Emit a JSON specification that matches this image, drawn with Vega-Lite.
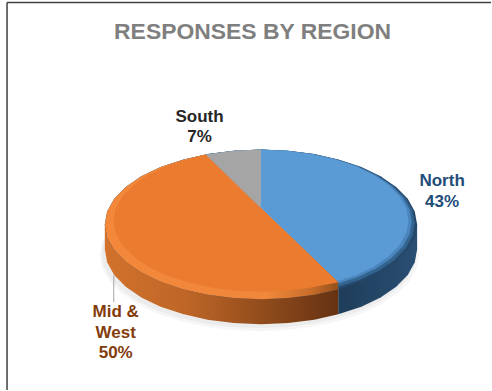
{
  "$schema": "https://vega.github.io/schema/vega-lite/v6.json",
  "autosize": {"type": "fit", "contains": "padding"},
  "width": 492,
  "height": 391,
  "padding": 0,
  "background": "white",
  "view": {"stroke": null},
  "datasets": {
    "disc": [
      {"i":0,"x":0,"y":1},{"i":1,"x":0.174,"y":0.985},{"i":2,"x":0.342,"y":0.94},{"i":3,"x":0.5,"y":0.866},{"i":4,"x":0.643,"y":0.766},{"i":5,"x":0.766,"y":0.643},
      {"i":6,"x":0.866,"y":0.5},{"i":7,"x":0.94,"y":0.342},{"i":8,"x":0.985,"y":0.174},{"i":9,"x":1,"y":0},{"i":10,"x":0.985,"y":-0.174},{"i":11,"x":0.94,"y":-0.342},
      {"i":12,"x":0.866,"y":-0.5},{"i":13,"x":0.766,"y":-0.643},{"i":14,"x":0.643,"y":-0.766},{"i":15,"x":0.5,"y":-0.866},{"i":16,"x":0.342,"y":-0.94},{"i":17,"x":0.174,"y":-0.985},
      {"i":18,"x":0,"y":-1},{"i":19,"x":-0.174,"y":-0.985},{"i":20,"x":-0.342,"y":-0.94},{"i":21,"x":-0.5,"y":-0.866},{"i":22,"x":-0.643,"y":-0.766},{"i":23,"x":-0.766,"y":-0.643},
      {"i":24,"x":-0.866,"y":-0.5},{"i":25,"x":-0.94,"y":-0.342},{"i":26,"x":-0.985,"y":-0.174},{"i":27,"x":-1,"y":0},{"i":28,"x":-0.985,"y":0.174},{"i":29,"x":-0.94,"y":0.342},
      {"i":30,"x":-0.866,"y":0.5},{"i":31,"x":-0.766,"y":0.643},{"i":32,"x":-0.643,"y":0.766},{"i":33,"x":-0.5,"y":0.866},{"i":34,"x":-0.342,"y":0.94},{"i":35,"x":-0.174,"y":0.985}
    ],
    "northWall": [
      {"i":0,"x":0.495,"y":0},{"i":1,"x":1,"y":0},{"i":2,"x":1,"y":-0.333},{"i":3,"x":0.985,"y":-0.507},{"i":4,"x":0.94,"y":-0.675},{"i":5,"x":0.866,"y":-0.833},
      {"i":6,"x":0.766,"y":-0.976},{"i":7,"x":0.643,"y":-1.099},{"i":8,"x":0.5,"y":-1.199},{"i":9,"x":0.495,"y":-1.202}
    ],
    "midWestWall": [
      {"i":0,"x":0.495,"y":-0.5},{"i":1,"x":0.495,"y":-1.202},{"i":2,"x":0.342,"y":-1.273},{"i":3,"x":0.174,"y":-1.318},{"i":4,"x":0,"y":-1.333},{"i":5,"x":-0.174,"y":-1.318},
      {"i":6,"x":-0.342,"y":-1.273},{"i":7,"x":-0.5,"y":-1.199},{"i":8,"x":-0.643,"y":-1.099},{"i":9,"x":-0.766,"y":-0.976},{"i":10,"x":-0.866,"y":-0.833},{"i":11,"x":-0.94,"y":-0.675},
      {"i":12,"x":-0.985,"y":-0.507},{"i":13,"x":-1,"y":-0.333},{"i":14,"x":-1,"y":0}
    ],
    "midWestRim": [
      {"i":0,"x":0,"y":0.22},{"i":1,"x":0.495,"y":-0.773},{"i":2,"x":0.495,"y":-0.869},{"i":3,"x":0.342,"y":-0.94},{"i":4,"x":0.174,"y":-0.985},{"i":5,"x":0,"y":-1},
      {"i":6,"x":-0.174,"y":-0.985},{"i":7,"x":-0.342,"y":-0.94},{"i":8,"x":-0.5,"y":-0.866},{"i":9,"x":-0.643,"y":-0.766},{"i":10,"x":-0.766,"y":-0.643},{"i":11,"x":-0.866,"y":-0.5},
      {"i":12,"x":-0.94,"y":-0.342},{"i":13,"x":-0.985,"y":-0.174},{"i":14,"x":-1,"y":0},{"i":15,"x":-0.985,"y":0.174},{"i":16,"x":-0.94,"y":0.342},{"i":17,"x":-0.866,"y":0.5},
      {"i":18,"x":-0.766,"y":0.643},{"i":19,"x":-0.643,"y":0.766},{"i":20,"x":-0.5,"y":0.866},{"i":21,"x":-0.354,"y":0.935}
    ],
    "midWestFace": [
      {"i":0,"x":0,"y":0.22,"region":"Mid & West","share":50},{"i":1,"x":0.495,"y":-0.773},{"i":2,"x":0.323,"y":-0.843},{"i":3,"x":0.164,"y":-0.886},{"i":4,"x":0,"y":-0.9},{"i":5,"x":-0.164,"y":-0.886},
      {"i":6,"x":-0.323,"y":-0.843},{"i":7,"x":-0.4725,"y":-0.773},{"i":8,"x":-0.608,"y":-0.678},{"i":9,"x":-0.724,"y":-0.561},{"i":10,"x":-0.818,"y":-0.425},{"i":11,"x":-0.888,"y":-0.275},
      {"i":12,"x":-0.931,"y":-0.115},{"i":13,"x":-0.945,"y":0.05},{"i":14,"x":-0.931,"y":0.215},{"i":15,"x":-0.888,"y":0.375},{"i":16,"x":-0.818,"y":0.525},{"i":17,"x":-0.724,"y":0.661},
      {"i":18,"x":-0.608,"y":0.778},{"i":19,"x":-0.4725,"y":0.873},{"i":20,"x":-0.354,"y":0.935}
    ],
    "southFace": [
      {"i":0,"x":0,"y":0.22,"region":"South","share":7},{"i":1,"x":-0.354,"y":0.935},{"i":2,"x":-0.174,"y":0.985},{"i":3,"x":0,"y":1}
    ],
    "frame": [
      {"x":-1.626,"x2":1.473,"y":2.967,"y2":2.967},
      {"x":-1.626,"x2":-1.626,"y":2.967,"y2":-2.2133}
    ],
    "leader": [
      {"x":-0.9425,"y":-0.68,"y2":-1.04}
    ],
    "labels": [
      {"text":"RESPONSES BY REGION","x":-0.054,"y":2.48,"kind":"title"},
      {"text":"South","x":-0.393,"y":1.373,"kind":"South"},
      {"text":"7%","x":-0.393,"y":1.107,"kind":"South"},
      {"text":"North","x":1.16,"y":0.507,"kind":"North"},
      {"text":"43%","x":1.16,"y":0.227,"kind":"North"},
      {"text":"Mid &","x":-0.93,"y":-1.24,"kind":"Mid & West"},
      {"text":"West","x":-0.93,"y":-1.52,"kind":"Mid & West"},
      {"text":"50%","x":-0.93,"y":-1.787,"kind":"Mid & West"}
    ]
  },
  "resolve": {"scale": {"x": "independent", "y": "independent"}},
  "layer": [
    {
      "data": {"name": "disc"},
      "mark": {"type": "line", "fill": "#000000", "fillOpacity": 0.035, "strokeWidth": 0},
      "encoding": {
        "x": {"field": "x", "type": "quantitative", "axis": null, "scale": {"domain": [-1.625, 1.45]}},
        "y": {"field": "y", "type": "quantitative", "axis": null, "scale": {"domain": [-1.776, 3.368]}},
        "order": {"field": "i"}
      }
    },
    {
      "data": {"name": "disc"},
      "mark": {"type": "line", "fill": "#000000", "fillOpacity": 0.04, "strokeWidth": 0},
      "encoding": {
        "x": {"field": "x", "type": "quantitative", "axis": null, "scale": {"domain": [-1.642, 1.471]}},
        "y": {"field": "y", "type": "quantitative", "axis": null, "scale": {"domain": [-1.827, 3.387]}},
        "order": {"field": "i"}
      }
    },
    {
      "data": {"name": "northWall"},
      "mark": {"type": "line", "strokeWidth": 0, "fill": {"x1": 0, "y1": 0, "x2": 1, "y2": 0, "gradient": "linear", "stops": [{"offset": 0, "color": "#1E3D5A"}, {"offset": 1, "color": "#2A4F73"}]}},
      "encoding": {
        "x": {"field": "x", "type": "quantitative", "axis": null, "scale": {"domain": [-1.671, 1.473]}},
        "y": {"field": "y", "type": "quantitative", "axis": null, "scale": {"domain": [-2.2133, 3]}},
        "order": {"field": "i"}
      }
    },
    {
      "data": {"name": "midWestWall"},
      "mark": {"type": "line", "strokeWidth": 0, "fill": {"x1": 0, "y1": 0, "x2": 1, "y2": 0, "gradient": "linear", "stops": [{"offset": 0, "color": "#D2722C"}, {"offset": 0.35, "color": "#BE6627"}, {"offset": 0.7, "color": "#8E4A1B"}, {"offset": 1, "color": "#653212"}]}},
      "encoding": {
        "x": {"field": "x", "type": "quantitative", "axis": null, "scale": {"domain": [-1.671, 1.473]}},
        "y": {"field": "y", "type": "quantitative", "axis": null, "scale": {"domain": [-2.2133, 3]}},
        "order": {"field": "i"}
      }
    },
    {
      "data": {"name": "disc"},
      "mark": {"type": "line", "fill": "#24476A", "strokeWidth": 0},
      "encoding": {
        "x": {"field": "x", "type": "quantitative", "axis": null, "scale": {"domain": [-1.671, 1.473]}},
        "y": {"field": "y", "type": "quantitative", "axis": null, "scale": {"domain": [-2.2133, 3]}},
        "order": {"field": "i"}
      }
    },
    {
      "data": {"name": "disc"},
      "mark": {"type": "line", "fill": "#336490", "strokeWidth": 0},
      "encoding": {
        "x": {"field": "x", "type": "quantitative", "axis": null, "scale": {"domain": [-1.696, 1.495]}},
        "y": {"field": "y", "type": "quantitative", "axis": null, "scale": {"domain": [-2.262, 3.03]}},
        "order": {"field": "i"}
      }
    },
    {
      "data": {"name": "disc"},
      "mark": {"type": "line", "fill": "#4A86BD", "strokeWidth": 0},
      "encoding": {
        "x": {"field": "x", "type": "quantitative", "axis": null, "scale": {"domain": [-1.732, 1.526]}},
        "y": {"field": "y", "type": "quantitative", "axis": null, "scale": {"domain": [-2.33, 3.073]}},
        "order": {"field": "i"}
      }
    },
    {
      "data": {"name": "disc"},
      "mark": {"type": "line", "fill": "#5B9BD5", "strokeWidth": 0},
      "encoding": {
        "x": {"field": "x", "type": "quantitative", "axis": null, "scale": {"domain": [-1.768, 1.559]}},
        "y": {"field": "y", "type": "quantitative", "axis": null, "scale": {"domain": [-2.382, 3.105]}},
        "order": {"field": "i"}
      }
    },
    {
      "data": {"name": "midWestRim"},
      "mark": {"type": "line", "strokeWidth": 0, "fill": {"x1": 0, "y1": 0, "x2": 1, "y2": 0, "gradient": "linear", "stops": [{"offset": 0, "color": "#F3883B"}, {"offset": 0.7, "color": "#F0873A"}, {"offset": 0.88, "color": "#C96E2A"}, {"offset": 1, "color": "#94501D"}]}},
      "encoding": {
        "x": {"field": "x", "type": "quantitative", "axis": null, "scale": {"domain": [-1.671, 1.473]}},
        "y": {"field": "y", "type": "quantitative", "axis": null, "scale": {"domain": [-2.2133, 3]}},
        "order": {"field": "i"}
      }
    },
    {
      "data": {"name": "midWestFace"},
      "mark": {"type": "line", "fill": "#EB7C2F", "strokeWidth": 0},
      "encoding": {
        "x": {"field": "x", "type": "quantitative", "axis": null, "scale": {"domain": [-1.671, 1.473]}},
        "y": {"field": "y", "type": "quantitative", "axis": null, "scale": {"domain": [-2.2133, 3]}},
        "order": {"field": "i"}
      }
    },
    {
      "data": {"name": "southFace"},
      "mark": {"type": "line", "fill": "#A5A5A5", "strokeWidth": 0},
      "encoding": {
        "x": {"field": "x", "type": "quantitative", "axis": null, "scale": {"domain": [-1.671, 1.473]}},
        "y": {"field": "y", "type": "quantitative", "axis": null, "scale": {"domain": [-2.2133, 3]}},
        "order": {"field": "i"}
      }
    },
    {
      "data": {"name": "leader"},
      "mark": {"type": "rule", "color": "#A6A6A6", "strokeWidth": 1},
      "encoding": {
        "x": {"field": "x", "type": "quantitative", "axis": null, "scale": {"domain": [-1.671, 1.473]}},
        "y": {"field": "y", "type": "quantitative", "axis": null, "scale": {"domain": [-2.2133, 3]}},
        "y2": {"field": "y2"}
      }
    },
    {
      "data": {"name": "frame"},
      "mark": {"type": "rule", "color": "#404040", "strokeWidth": 1.5},
      "encoding": {
        "x": {"field": "x", "type": "quantitative", "axis": null, "scale": {"domain": [-1.671, 1.473]}},
        "x2": {"field": "x2"},
        "y": {"field": "y", "type": "quantitative", "axis": null, "scale": {"domain": [-2.2133, 3]}},
        "y2": {"field": "y2"}
      }
    },
    {
      "data": {"name": "labels"},
      "mark": {"type": "text", "font": "Liberation Sans", "fontWeight": "bold", "align": "center", "baseline": "alphabetic"},
      "encoding": {
        "x": {"field": "x", "type": "quantitative", "axis": null, "scale": {"domain": [-1.671, 1.473]}},
        "y": {"field": "y", "type": "quantitative", "axis": null, "scale": {"domain": [-2.2133, 3]}},
        "text": {"field": "text"},
        "color": {"field": "kind", "type": "nominal", "legend": null, "scale": {"domain": ["title", "South", "North", "Mid & West"], "range": ["#7F7F7F", "#262626", "#1F4E79", "#843C0C"]}},
        "size": {"field": "kind", "type": "ordinal", "legend": null, "scale": {"type": "ordinal", "domain": ["title", "South", "North", "Mid & West"], "range": [22.9, 17, 17, 17]}}
      }
    }
  ]
}
